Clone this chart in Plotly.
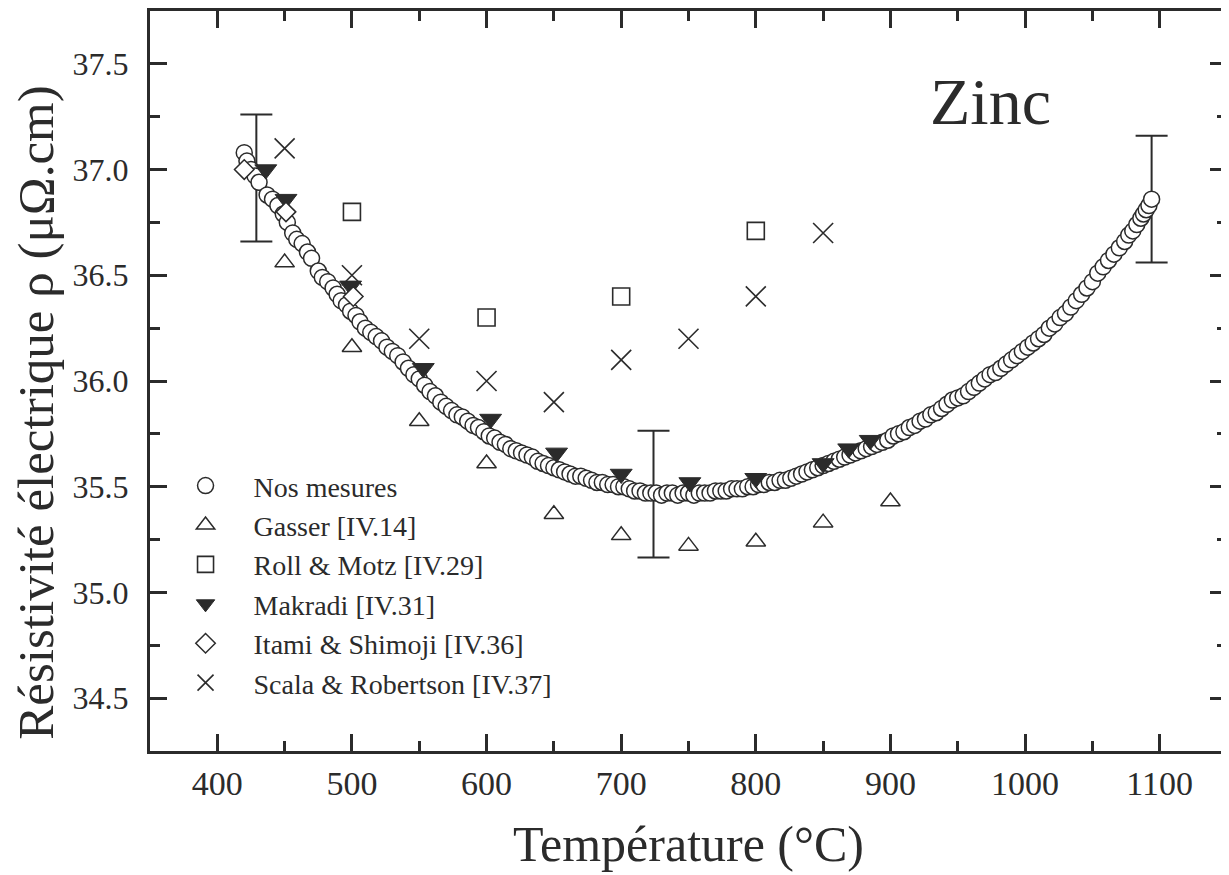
import plotly.graph_objects as go

# ---------------------------------------------------------------------------
# Data
# ---------------------------------------------------------------------------
NOS_T = [420, 422, 425, 428, 431, 437, 441, 445, 449, 452, 456, 459, 463, 467,
         470, 475, 478, 482, 486, 489, 492, 496, 499, 503, 506, 510, 514, 518,
         522, 526, 530, 534, 538, 542, 546, 550, 554, 558, 562, 566, 570, 574,
         578, 582, 586, 590, 594, 598, 602, 606, 610, 614, 618, 622, 626, 630,
         634, 638, 642, 646, 650, 654, 658, 662, 666, 670, 674, 678, 682, 686,
         690, 694, 698, 702, 706, 710, 714, 718, 722, 726, 730, 734, 738, 742,
         746, 750, 754, 758, 762, 766, 770, 774, 778, 782, 786, 790, 794, 798,
         802, 806, 810, 814, 818, 822, 826, 830, 834, 838, 842, 846, 850, 854,
         858, 862, 866, 870, 874, 878, 882, 886, 890, 894, 898, 902, 906, 910,
         914, 918, 922, 926, 930, 934, 938, 942, 946, 950, 954, 958, 962, 966,
         970, 974, 978, 982, 986, 990, 994, 998, 1002, 1006, 1010, 1014, 1018,
         1022, 1026, 1030, 1034, 1038, 1042, 1046, 1050, 1054, 1058, 1062, 1066,
         1070, 1074, 1077, 1080, 1083, 1086, 1088, 1090, 1092, 1094]
NOS_RHO = [37.08, 37.04, 37.00, 36.97, 36.94, 36.88, 36.86, 36.83, 36.79, 36.75,
           36.70, 36.67, 36.65, 36.61, 36.58, 36.52, 36.49, 36.47, 36.44, 36.41,
           36.38, 36.36, 36.33, 36.31, 36.28, 36.25, 36.23, 36.21, 36.19, 36.16,
           36.14, 36.12, 36.09, 36.06, 36.03, 36.01, 35.98, 35.95, 35.93, 35.90,
           35.88, 35.86, 35.84, 35.83, 35.81, 35.79, 35.78, 35.76, 35.74, 35.73,
           35.71, 35.70, 35.68, 35.67, 35.66, 35.65, 35.64, 35.62, 35.61, 35.60,
           35.59, 35.58, 35.57, 35.56, 35.55, 35.55, 35.54, 35.53, 35.52, 35.52,
           35.51, 35.51, 35.50, 35.50, 35.49, 35.48, 35.48, 35.47, 35.47, 35.47,
           35.46, 35.47, 35.47, 35.46, 35.47, 35.47, 35.46, 35.47, 35.47, 35.47,
           35.48, 35.48, 35.48, 35.49, 35.49, 35.49, 35.50, 35.50, 35.51, 35.51,
           35.52, 35.52, 35.53, 35.53, 35.54, 35.55, 35.56, 35.57, 35.58, 35.59,
           35.60, 35.61, 35.62, 35.63, 35.64, 35.65, 35.66, 35.67, 35.68, 35.69,
           35.70, 35.71, 35.72, 35.74, 35.75, 35.76, 35.78, 35.79, 35.81, 35.82,
           35.84, 35.85, 35.87, 35.89, 35.91, 35.92, 35.93, 35.95, 35.97, 35.99,
           36.01, 36.03, 36.04, 36.06, 36.08, 36.10, 36.12, 36.14, 36.16, 36.18,
           36.20, 36.22, 36.25, 36.27, 36.30, 36.32, 36.35, 36.38, 36.41, 36.44,
           36.47, 36.51, 36.54, 36.57, 36.60, 36.63, 36.66, 36.69, 36.71, 36.74,
           36.77, 36.79, 36.81, 36.83, 36.86]

GASSER_T = [450, 500, 550, 600, 650, 700, 750, 800, 850, 900]
GASSER_RHO = [36.56, 36.16, 35.81, 35.61, 35.37, 35.27, 35.22, 35.24, 35.33, 35.43]

ROLL_T = [500, 600, 700, 800]
ROLL_RHO = [36.80, 36.30, 36.40, 36.71]

MAKRADI_T = [436, 451, 499, 553, 603, 652, 700, 751, 800, 850, 869, 885]
MAKRADI_RHO = [37.00, 36.86, 36.45, 36.06, 35.82, 35.66, 35.56, 35.52, 35.54,
               35.61, 35.68, 35.72]

ITAMI_T = [420, 451, 501]
ITAMI_RHO = [37.00, 36.80, 36.40]

SCALA_T = [450, 500, 550, 600, 650, 700, 750, 800, 850]
SCALA_RHO = [37.10, 36.50, 36.20, 36.00, 35.90, 36.10, 36.20, 36.40, 36.70]

ERR_T = [429, 724, 1094]
ERR_RHO = [36.96, 35.465, 36.86]
ERR_SIZE = [0.30, 0.30, 0.30]

INK = "#2b2b2b"
FONT = "Liberation Serif, Times New Roman, serif"

fig = go.Figure()

# error bars (no marker)
fig.add_trace(go.Scatter(
    x=ERR_T, y=ERR_RHO, mode="markers",
    marker=dict(size=1, color="rgba(0,0,0,0)"),
    error_y=dict(type="data", array=ERR_SIZE, color=INK, thickness=2, width=16),
    showlegend=False, hoverinfo="skip",
))

fig.add_trace(go.Scatter(
    x=NOS_T, y=NOS_RHO, mode="markers", name="Nos mesures",
    marker=dict(symbol="circle", size=16, color="white",
                line=dict(color=INK, width=1.5)),
))
fig.add_trace(go.Scatter(
    x=GASSER_T, y=GASSER_RHO, mode="markers", name="Gasser [IV.14]",
    marker=dict(symbol="triangle-up", size=17, color="white",
                line=dict(color=INK, width=1.5)),
))
fig.add_trace(go.Scatter(
    x=ROLL_T, y=ROLL_RHO, mode="markers", name="Roll &amp; Motz [IV.29]",
    marker=dict(symbol="square", size=17, color="white",
                line=dict(color=INK, width=1.6)),
))
fig.add_trace(go.Scatter(
    x=MAKRADI_T, y=MAKRADI_RHO, mode="markers", name="Makradi [IV.31]",
    marker=dict(symbol="triangle-down", size=19, color=INK,
                line=dict(color=INK, width=1)),
))
fig.add_trace(go.Scatter(
    x=ITAMI_T, y=ITAMI_RHO, mode="markers", name="Itami &amp; Shimoji [IV.36]",
    marker=dict(symbol="diamond", size=15, color="white",
                line=dict(color=INK, width=1.5)),
))
fig.add_trace(go.Scatter(
    x=SCALA_T, y=SCALA_RHO, mode="markers", name="Scala &amp; Robertson [IV.37]",
    marker=dict(symbol="x-thin-open", size=20, color=INK,
                line=dict(color=INK, width=1.6)),
))

fig.add_annotation(
    x=974, y=37.32, text="Zinc", showarrow=False,
    font=dict(family=FONT, size=66, color=INK),
)

# y-axis title placed as annotation (it sits a little below the axis centre)
fig.add_annotation(
    xref="paper", yref="paper", x=-0.106, y=0.457,
    xanchor="center", yanchor="middle", textangle=-90,
    text="Résistivité électrique ρ (μΩ.cm)", showarrow=False,
    font=dict(family=FONT, size=51, color=INK),
)

axis_common = dict(
    showline=True, linewidth=3, linecolor=INK, mirror="ticks",
    ticks="inside", ticklen=17, tickwidth=2.5, tickcolor=INK,
    showgrid=False, zeroline=False, automargin=False,
)

fig.update_xaxes(
    range=[350, 1150], dtick=100,
    minor=dict(ticks="inside", ticklen=10, tickwidth=2.5, tickcolor=INK, dtick=50),
    tickfont=dict(family=FONT, size=34, color=INK),
    title=dict(text="Température (°C)", font=dict(family=FONT, size=50, color=INK),
               standoff=26),
    ticklabelstandoff=0,
    **axis_common,
)
fig.update_yaxes(
    range=[34.25, 37.75], dtick=0.5, tickformat=".1f",
    minor=dict(ticks="inside", ticklen=10, tickwidth=2.5, tickcolor=INK, dtick=0.25),
    tickfont=dict(family=FONT, size=32, color=INK),
    ticklabelstandoff=12,
    **axis_common,
)

fig.update_layout(
    width=1229, height=875,
    paper_bgcolor="white", plot_bgcolor="white",
    margin=dict(l=142, r=10, t=3, b=132),
    font=dict(family=FONT, color=INK),
    legend=dict(
        x=0.007, y=0.392, xanchor="left", yanchor="top",
        bgcolor="rgba(0,0,0,0)", borderwidth=0,
        font=dict(family=FONT, size=28, color=INK),
        itemwidth=86, tracegroupgap=0,
    ),
)

fig.write_html("out.html")
